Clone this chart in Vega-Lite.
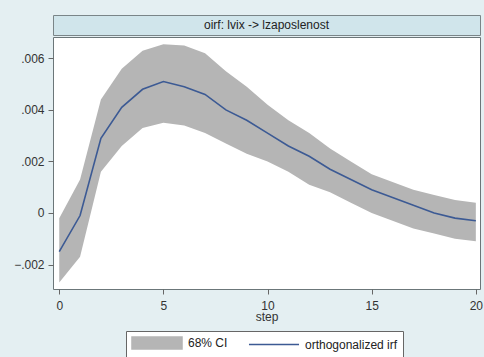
{
  "$schema": "https://vega.github.io/schema/vega-lite/v6.json",
  "background": "#e4eff2",
  "padding": {"left": 13, "top": 14, "right": 0, "bottom": 0},
  "config": {
    "font": "Liberation Sans",
    "view": {"stroke": null},
    "axis": {"labelColor": "#333333", "titleColor": "#333333", "labelFontSize": 12, "titleFontSize": 12, "titleFontWeight": "normal", "tickColor": "#666666", "domain": false, "grid": false},
    "legend": {
      "title": null, "orient": "none", "legendX": 73, "legendY": 316, "direction": "horizontal",
      "fillColor": "#ffffff", "strokeColor": "#666666", "padding": 5,
      "labelFontSize": 12, "labelColor": "#222222", "labelOffset": 24, "columnPadding": 17,
      "symbolSize": 144, "symbolOffset": 19, "symbolType": "M-4.17,-1H4.17V1H-4.17Z"
    }
  },
  "vconcat": [
    {
      "width": 427,
      "height": 20,
      "view": {"fill": "#d0e5eb", "stroke": "#7a8588", "strokeWidth": 1},
      "data": {"values": [{"t": "oirf: lvix -> lzaposlenost"}]},
      "mark": {"type": "text", "fontSize": 12, "color": "#222222", "baseline": "middle", "align": "center"},
      "encoding": {"text": {"field": "t"}}
    },
    {
      "width": 427,
      "height": 252,
      "view": {"fill": "#ffffff", "stroke": "#6b7679", "strokeWidth": 1},
      "data": {"values": [
        {"step": 0, "irf": -0.0015, "lo": -0.0027, "hi": -0.0002},
        {"step": 1, "irf": -0.0001, "lo": -0.0017, "hi": 0.0013},
        {"step": 2, "irf": 0.0029, "lo": 0.0016, "hi": 0.0044},
        {"step": 3, "irf": 0.0041, "lo": 0.0026, "hi": 0.0056},
        {"step": 4, "irf": 0.0048, "lo": 0.0033, "hi": 0.0063},
        {"step": 5, "irf": 0.0051, "lo": 0.0035, "hi": 0.00655},
        {"step": 6, "irf": 0.0049, "lo": 0.0034, "hi": 0.0065},
        {"step": 7, "irf": 0.0046, "lo": 0.0031, "hi": 0.0062},
        {"step": 8, "irf": 0.0040, "lo": 0.0027, "hi": 0.0055},
        {"step": 9, "irf": 0.0036, "lo": 0.0023, "hi": 0.0049},
        {"step": 10, "irf": 0.0031, "lo": 0.0020, "hi": 0.0042},
        {"step": 11, "irf": 0.0026, "lo": 0.0016, "hi": 0.0036},
        {"step": 12, "irf": 0.0022, "lo": 0.0011, "hi": 0.0031},
        {"step": 13, "irf": 0.0017, "lo": 0.0008, "hi": 0.0025},
        {"step": 14, "irf": 0.0013, "lo": 0.0004, "hi": 0.0020},
        {"step": 15, "irf": 0.0009, "lo": 0.0000, "hi": 0.0015},
        {"step": 16, "irf": 0.0006, "lo": -0.0003, "hi": 0.0012},
        {"step": 17, "irf": 0.0003, "lo": -0.0006, "hi": 0.0009},
        {"step": 18, "irf": 0.0000, "lo": -0.0008, "hi": 0.0007},
        {"step": 19, "irf": -0.0002, "lo": -0.0010, "hi": 0.0005},
        {"step": 20, "irf": -0.0003, "lo": -0.0011, "hi": 0.0004}
      ]},
      "layer": [
        {
          "mark": {"type": "area", "opacity": 1},
          "encoding": {
            "x": {"field": "step", "type": "quantitative", "scale": {"domain": [-0.3, 20.2], "nice": false, "zero": false},
                  "axis": {"values": [0, 5, 10, 15, 20], "title": "step", "tickSize": 5, "labelPadding": 6, "titlePadding": 0}},
            "y": {"field": "lo", "type": "quantitative", "scale": {"domain": [-0.00295, 0.00683], "nice": false, "zero": false},
                  "axis": {"values": [-0.002, 0, 0.002, 0.004, 0.006], "title": null, "tickSize": 5, "labelPadding": 4,
                           "labelExpr": "datum.value == 0 ? '0' : replace(format(datum.value, '.3f'), '0.', '.')"}},
            "y2": {"field": "hi"},
            "color": {"datum": "68% CI", "type": "nominal",
                      "scale": {"domain": ["68% CI", "orthogonalized irf"], "range": ["#b5b5b5", "#3c5a94"]},
                      "legend": {
                        "encode": {"symbols": {"update": {
                          "shape": {"signal": "datum.value === '68% CI' ? 'M-4.17,-1H4.17V1H-4.17Z' : 'M-4.17,0H4.17'"},
                          "fill": {"signal": "datum.value === '68% CI' ? '#b5b5b5' : 'transparent'"},
                          "stroke": {"signal": "datum.value === '68% CI' ? 'transparent' : '#3c5a94'"},
                          "strokeWidth": {"value": 1.5},
                          "opacity": {"value": 1}
                        }}}
                      }}
          }
        },
        {
          "mark": {"type": "line", "strokeWidth": 1.6},
          "encoding": {
            "x": {"field": "step", "type": "quantitative"},
            "y": {"field": "irf", "type": "quantitative"},
            "color": {"datum": "orthogonalized irf", "type": "nominal",
                      "legend": {
                        "encode": {"symbols": {"update": {
                          "shape": {"signal": "datum.value === '68% CI' ? 'M-4.17,-1H4.17V1H-4.17Z' : 'M-4.17,0H4.17'"},
                          "fill": {"signal": "datum.value === '68% CI' ? '#b5b5b5' : 'transparent'"},
                          "stroke": {"signal": "datum.value === '68% CI' ? 'transparent' : '#3c5a94'"},
                          "strokeWidth": {"value": 1.5},
                          "opacity": {"value": 1}
                        }}}
                      }}
          }
        }
      ]
    }
  ],
  "spacing": 0
}
